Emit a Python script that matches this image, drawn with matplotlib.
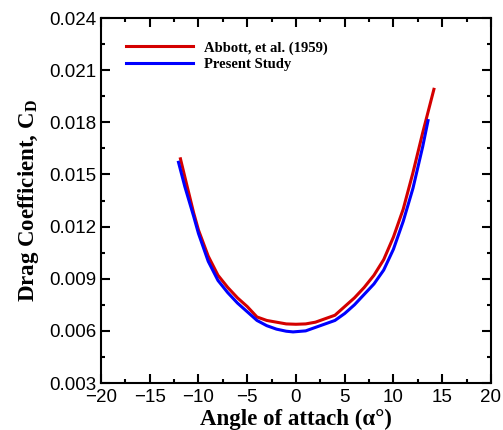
import matplotlib
matplotlib.use('Agg')
import matplotlib.pyplot as plt
from matplotlib.ticker import MultipleLocator, FormatStrFormatter

plt.rcParams['mathtext.fontset'] = 'custom'
plt.rcParams['mathtext.rm'] = 'Liberation Serif'
plt.rcParams['mathtext.bf'] = 'Liberation Serif:bold'

# Abbott, et al. (1959)
alpha_abbott = [-11.85, -11.2, -10.5, -10, -9, -8, -7, -6, -5, -4, -3, -2, -1, 0,
                1, 2, 3, 4, 5, 6, 7, 8, 9, 10, 11, 12, 13, 14.15]
cd_abbott = [0.0159, 0.0144, 0.0128, 0.0118, 0.0103, 0.0092, 0.0085, 0.0079, 0.0074, 0.0068, 0.0066, 0.0065, 0.0064, 0.00638,
             0.0064, 0.0065, 0.0067, 0.0069, 0.0074, 0.0079, 0.0085, 0.0092, 0.0101, 0.0114, 0.0130, 0.0151, 0.0174, 0.0199]

# Present Study
alpha_present = [-12.05, -11.4, -10.5, -10, -9, -8, -7, -6, -5, -4, -3, -2, -1, -0.3,
                 1, 2, 3, 4, 5, 6, 7, 8, 9, 10, 11, 12, 13, 13.55]
cd_present = [0.0157, 0.0143, 0.0126, 0.0116, 0.0100, 0.0089, 0.0082, 0.0076, 0.0071, 0.0066, 0.0063, 0.0061, 0.00598, 0.00594,
              0.0060, 0.0062, 0.0064, 0.0066, 0.0070, 0.0075, 0.0081, 0.0087, 0.0095, 0.0107, 0.0123, 0.0142, 0.0166, 0.0181]

fig = plt.figure(figsize=(5.03, 4.30), dpi=100)
ax = fig.add_axes([0.2008, 0.1093, 0.7752, 0.8487])

ax.plot(alpha_abbott, cd_abbott, color='#d40000', lw=2.2, label='Abbott, et al. (1959)')
ax.plot(alpha_present, cd_present, color='#0000ff', lw=2.2, label='Present Study')

ax.set_xlim(-20, 20)
ax.set_ylim(0.003, 0.024)
ax.xaxis.set_major_locator(MultipleLocator(5))
ax.xaxis.set_minor_locator(MultipleLocator(2.5))
ax.yaxis.set_major_locator(MultipleLocator(0.003))
ax.yaxis.set_minor_locator(MultipleLocator(0.0015))
ax.yaxis.set_major_formatter(FormatStrFormatter('%.3f'))

ax.tick_params(which='both', direction='in', top=True, right=True, width=1.5)
ax.tick_params(which='major', length=6.3)
ax.tick_params(which='minor', length=3.2)
ax.tick_params(axis='x', pad=4)
ax.tick_params(axis='y', pad=3.5)
for lab in ax.get_xticklabels() + ax.get_yticklabels():
    lab.set_fontfamily('Liberation Sans')
    lab.set_fontsize(13.5)
for sp in ax.spines.values():
    sp.set_linewidth(1.5)

ax.set_xlabel('Angle of attach (α°)', family='Liberation Serif', weight='bold', fontsize=16.5, labelpad=2)
ax.set_ylabel(r'Drag Coefficient, C$_\mathbf{D}$', family='Liberation Serif', weight='bold', fontsize=16.5, labelpad=6)

leg = ax.legend(loc='upper left', bbox_to_anchor=(0.064, 0.937), frameon=False, borderpad=0, borderaxespad=0,
                handlelength=4.6, handletextpad=0.75, labelspacing=0.25,
                prop={'family': 'Liberation Serif', 'weight': 'bold', 'size': 10.5})

fig.savefig('out.png', dpi=100)
